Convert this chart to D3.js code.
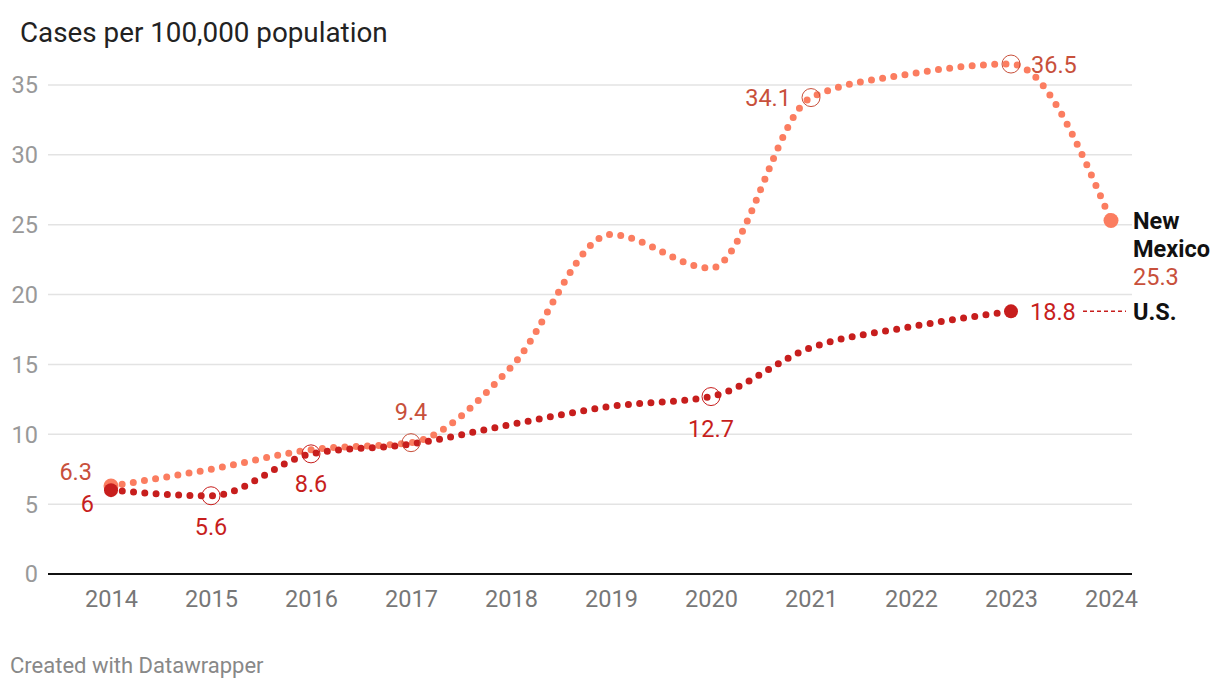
<!DOCTYPE html>
<html><head><meta charset="utf-8">
<script src="https://cdn.jsdelivr.net/npm/d3@7"></script>
<style>
body{margin:0;background:#fff;font-family:Roboto,"Noto Sans",sans-serif;}
</style></head>
<body><svg id="c" width="1220" height="690"></svg>
<script>
const years = [2014,2015,2016,2017,2018,2019,2020,2021,2022,2023,2024];
const newMexico = [6.3,7.5,8.9,9.4,14.8,24.3,21.9,34.1,35.8,36.5,25.3];
const us = [6.0,5.6,8.6,9.3,10.7,12.0,12.7,16.2,17.7,18.8,null];
const yTicks = [0,5,10,15,20,25,30,35];
const nmColor = "#fb7d60", nmLabel = "#c8503b";
const usColor = "#c71e1d", usLabel = "#c71e1d";
const FS = 23.5;

const svg = d3.select("#c");
const x = d3.scaleLinear().domain([2014,2024]).range([111,1111]);
const y = d3.scaleLinear().domain([0,35]).range([574,85]);

svg.append("text").attr("x",20).attr("y",42).attr("font-size",27.8).attr("fill","#222").text("Cases per 100,000 population");

const gy = svg.append("g");
yTicks.forEach(t=>{
  if(t>0) gy.append("line").attr("x1",48).attr("x2",1132).attr("y1",y(t)).attr("y2",y(t)).attr("stroke","#e3e3e3").attr("stroke-width",1.5);
  gy.append("text").attr("x",38).attr("y",y(t)).attr("dy","0.36em").attr("text-anchor","end").attr("font-size",FS).attr("fill","#999").text(t);
});
svg.append("line").attr("x1",48).attr("x2",1132).attr("y1",y(0)).attr("y2",y(0)).attr("stroke","#111").attr("stroke-width",2);
const xa = svg.append("g").attr("transform","translate(0,"+(y(0))+")")
  .call(d3.axisBottom(x).tickValues(years).tickFormat(d3.format("d")).tickSize(0).tickPadding(16));
xa.select(".domain").remove();
xa.selectAll("text").attr("font-size",FS).attr("fill","#777").attr("font-family","Roboto");

const line = d3.line().defined(d=>d.v!=null).x(d=>x(d.yr)).y(d=>y(d.v)).curve(d3.curveMonotoneX);
const nmData = years.map((yr,i)=>({yr,v:newMexico[i]}));
const usData = years.map((yr,i)=>({yr,v:us[i]})).filter(d=>d.v!=null);

function drawLine(data,color){
  svg.append("path").datum(data).attr("d",line).attr("fill","none").attr("stroke",color)
    .attr("stroke-width",7).attr("stroke-linecap","round").attr("stroke-dasharray","0 11.3");
}
drawLine(nmData,nmColor);
drawLine(usData,usColor);

[[nmData[0],nmColor,7.5],[nmData[10],nmColor,7.5],[usData[0],usColor,7],[usData[9],usColor,7]].forEach(([d,c,r])=>{
  svg.append("circle").attr("cx",x(d.yr)).attr("cy",y(d.v)).attr("r",r).attr("fill",c);
});

const hl = [[2015,us[1],usColor],[2016,us[2],usColor],[2017,newMexico[3],nmLabel],[2020,us[6],usColor],[2021,newMexico[7],nmLabel],[2023,newMexico[9],nmLabel]];
hl.forEach(([yr,v,c])=>{
  svg.append("circle").attr("cx",x(yr)).attr("cy",y(v)).attr("r",9).attr("fill","none").attr("stroke",c).attr("stroke-width",1);
});

function lab(tx,ty,t,c,anchor,weight){
  svg.append("text").attr("x",tx).attr("y",ty).attr("dy","0.36em").attr("text-anchor",anchor||"middle")
    .attr("font-size",FS).attr("font-weight",weight||400).attr("fill",c).text(t);
}
lab(x(2014)-19,y(newMexico[0])-14,"6.3",nmLabel,"end");
lab(x(2014)-17,y(us[0])+13,"6",usLabel,"end");
lab(x(2015),y(us[1])+31,"5.6",usLabel);
lab(x(2016),y(us[2])+30,"8.6",usLabel);
lab(x(2017),y(newMexico[3])-31,"9.4",nmLabel);
lab(x(2020),y(us[6])+32,"12.7",usLabel);
lab(x(2021)-20,y(newMexico[7]),"34.1",nmLabel,"end");
lab(x(2023)+20,y(newMexico[9]),"36.5",nmLabel,"start");
lab(x(2023)+19,y(us[9]),"18.8",usLabel,"start");
svg.append("line").attr("x1",1083).attr("x2",1126).attr("y1",y(us[9])).attr("y2",y(us[9]))
  .attr("stroke",usColor).attr("stroke-width",1.5).attr("stroke-dasharray","4 3");
lab(1133,y(us[9]),"U.S.","#111","start",700);
lab(1133,y(newMexico[10]),"New","#111","start",700);
lab(1133,y(newMexico[10])+28,"Mexico","#111","start",700);
lab(1133,y(newMexico[10])+56,"25.3",nmLabel,"start");

svg.append("text").attr("x",10).attr("y",673).attr("font-size",22).attr("fill","#888").text("Created with Datawrapper");
</script></body></html>
